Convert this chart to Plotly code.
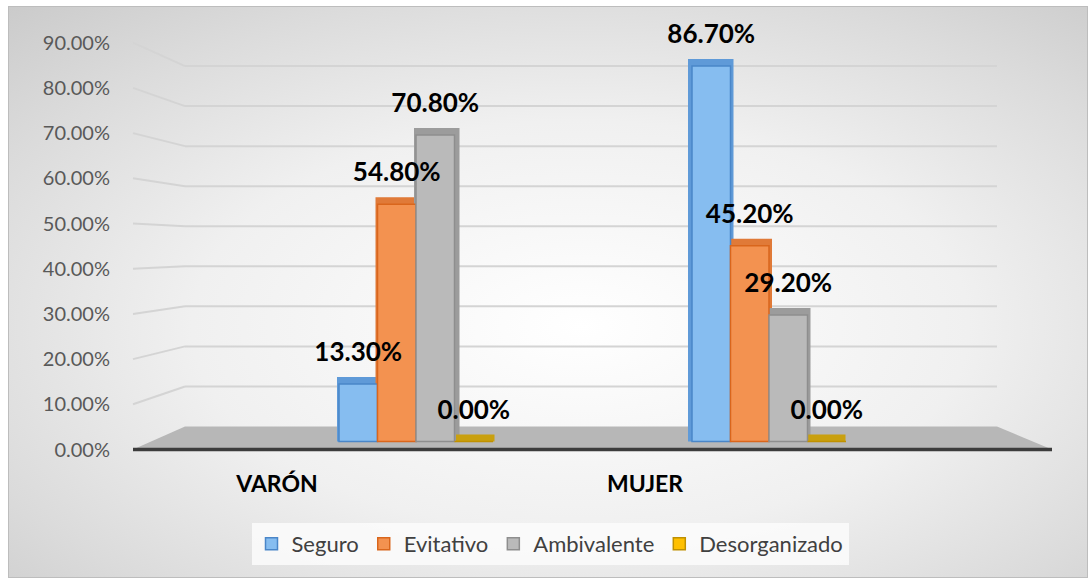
import base64
import plotly.graph_objects as go

# ---------------- data ----------------
categories = ["VARÓN", "MUJER"]
series_names = ["Seguro", "Evitativo", "Ambivalente", "Desorganizado"]
seguro = [0.133, 0.867]
evitativo = [0.548, 0.452]
ambivalente = [0.708, 0.292]
desorganizado = [0.0, 0.0]
y_tick_values = [0.0, 0.1, 0.2, 0.3, 0.4, 0.5, 0.6, 0.7, 0.8, 0.9]

# ---------------- styles ----------------
front_colors = ["#86bdf0", "#f39250", "#bababa", "#ffc000"]
line_colors = ["#4a86c8", "#d9661c", "#8e8e8e", "#bf9000"]
depth_colors = ["#5f9ad8", "#e07a38", "#9c9c9c", "#c9a00f"]
FONT = "Lato"

W, H = 1088, 578


def px_x(x):
    return x / W


def px_y(y):
    return 1 - y / H


def xrange_for(px0, ppu, left=0, right=W):
    return [(left - px0) / ppu, (right - px0) / ppu]


def yrange_for(py0, ppu, top=0, bottom=H):
    return [(py0 - bottom) / ppu, (py0 - top) / ppu]


# geometry (pixels)
CAT_X0, CAT_PPU = 416, 353          # bar groups
LBL_X0, LBL_PPU = 277, 368          # category labels
BAR_BASE, BAR_PPU = 441.5, 433      # bar value scale
DEPTH_PX = 7                        # thickness of the side / top faces
LABEL_LIFT = 14
WALL_BASE, WALL_PPU = 426.5, 400.5  # back wall gridlines
WALL_X0, WALL_X1 = 185, 997
FRONT_BASE, FRONT_PPU = 449.5, 452  # tick labels / side wall front
FLOOR_X0, FLOOR_X1 = 133, 1052

bw = 38.5 / CAT_PPU
half = DEPTH_PX / 2
dx_right = (5 - half) / CAT_PPU     # VARÓN shows its right side face
dx_left = (half - 4) / CAT_PPU      # MUJER shows its left side face

all_values = [seguro, evitativo, ambivalente, desorganizado]

fig = go.Figure()

# depth (side/top faces) -> yaxis2 (drawn first, behind the fronts)
for j, vals in enumerate(all_values):
    off = -2 * bw + j * bw
    fig.add_trace(go.Bar(
        x=categories, y=vals,
        width=bw, offset=[off + dx_right, off + dx_left],
        yaxis="y2",
        marker=dict(color=depth_colors[j], line=dict(color=depth_colors[j], width=DEPTH_PX)),
        showlegend=False, hoverinfo="skip",
    ))

# front faces -> yaxis3
for j, vals in enumerate(all_values):
    off = -2 * bw + j * bw
    fig.add_trace(go.Bar(
        x=categories, y=vals, width=bw, offset=off, yaxis="y3",
        name=series_names[j],
        marker=dict(color=front_colors[j], line=dict(color=line_colors[j], width=1.5)),
    ))

# value labels -> yaxis4
for j, vals in enumerate(all_values):
    off = -2 * bw + j * bw
    fig.add_trace(go.Bar(
        x=categories, y=vals, width=bw, offset=off, yaxis="y4",
        marker=dict(color="rgba(0,0,0,0)", line=dict(width=0)),
        texttemplate="%{y:.2%}", textposition="outside", constraintext="none",
        textfont=dict(family=FONT, size=26, color="black", weight="bold"),
        cliponaxis=False, showlegend=False, hoverinfo="skip",
    ))

# helper invisible trace so the category-label axis renders
fig.add_trace(go.Scatter(x=[0, 1], y=[0, 0], xaxis="x2", yaxis="y", mode="markers",
                         marker=dict(opacity=0), showlegend=False, hoverinfo="skip"))

# shapes: floor, axis line, wall gridlines, side wall gridlines
shapes = [
    dict(type="path", xref="paper", yref="paper", layer="below",
         path=(f"M{px_x(FLOOR_X0)},{px_y(FRONT_BASE)} L{px_x(FLOOR_X1)},{px_y(FRONT_BASE)} "
               f"L{px_x(WALL_X1)},{px_y(WALL_BASE)} L{px_x(WALL_X0)},{px_y(WALL_BASE)} Z"),
         fillcolor="#b7b7b7", line=dict(width=0)),
    dict(type="line", xref="paper", yref="paper", layer="below",
         x0=px_x(FLOOR_X0), x1=px_x(FLOOR_X1), y0=px_y(FRONT_BASE), y1=px_y(FRONT_BASE),
         line=dict(color="#3c3c3c", width=3.5)),
]
for v in y_tick_values[1:]:
    shapes.append(dict(type="line", xref="paper", yref="paper", layer="below",
                       x0=px_x(WALL_X0), y0=px_y(WALL_BASE - WALL_PPU * v),
                       x1=px_x(WALL_X1), y1=px_y(WALL_BASE - WALL_PPU * v),
                       line=dict(color="#d4d4d4", width=2)))
    shapes.append(dict(type="line", xref="paper", yref="paper", layer="below",
                       x0=px_x(FLOOR_X0), y0=px_y(FRONT_BASE - FRONT_PPU * v),
                       x1=px_x(WALL_X0), y1=px_y(WALL_BASE - WALL_PPU * v),
                       line=dict(color="#d4d4d4", width=2)))

svg = """<svg xmlns="http://www.w3.org/2000/svg" width="1080" height="572" viewBox="0 0 1080 572">
<defs><radialGradient id="g" cx="0.53" cy="0.56" r="0.8">
<stop offset="0" stop-color="#ffffff"/><stop offset="0.45" stop-color="#f0f0f0"/>
<stop offset="0.75" stop-color="#dbdbdb"/><stop offset="1" stop-color="#c8c8c8"/></radialGradient></defs>
<rect x="0.5" y="0.5" width="1079" height="571" fill="url(#g)" stroke="#bdbdbd" stroke-width="1"/></svg>"""
bg_src = "data:image/svg+xml;base64," + base64.b64encode(svg.encode()).decode()

fig.update_layout(
    width=W, height=H, autosize=False,
    margin=dict(l=0, r=0, t=0, b=0, pad=0),
    paper_bgcolor="white", plot_bgcolor="rgba(0,0,0,0)",
    barmode="overlay",
    images=[dict(source=bg_src, xref="paper", yref="paper", x=px_x(8), y=px_y(6),
                 sizex=1080 / W, sizey=572 / H, xanchor="left", yanchor="top",
                 sizing="stretch", layer="below")],
    shapes=shapes,
    xaxis=dict(type="category", range=xrange_for(CAT_X0, CAT_PPU), visible=False,
               domain=[0, 1]),
    xaxis2=dict(type="linear", overlaying="x", anchor="free", position=px_y(468),
                range=xrange_for(LBL_X0, LBL_PPU), tickvals=[0, 1], ticktext=categories,
                showgrid=False, zeroline=False, showline=False, ticks="",
                tickfont=dict(family=FONT, size=23, color="black", weight="bold")),
    yaxis=dict(domain=[0, 1], range=yrange_for(FRONT_BASE, FRONT_PPU), anchor="free",
               position=px_x(110), tickvals=y_tick_values, tickformat=".2%",
               showgrid=False, zeroline=False, showline=False, ticks="",
               tickfont=dict(family=FONT, size=20, color="#595959")),
    yaxis2=dict(overlaying="y", range=yrange_for(BAR_BASE - half, BAR_PPU), visible=False),
    yaxis3=dict(overlaying="y", range=yrange_for(BAR_BASE, BAR_PPU), visible=False),
    yaxis4=dict(overlaying="y", range=yrange_for(BAR_BASE - LABEL_LIFT, BAR_PPU), visible=False),
    legend=dict(orientation="h", x=px_x(550), y=px_y(544), xanchor="center", yanchor="middle",
                bgcolor="rgba(252,252,252,0.85)", traceorder="normal",
                font=dict(family=FONT, size=22, color="#404040")),
    hovermode=False,
)

fig.write_html("out.html", config={"displayModeBar": False},
               post_script="document.body.style.margin='0px';document.body.style.overflow='hidden';")
